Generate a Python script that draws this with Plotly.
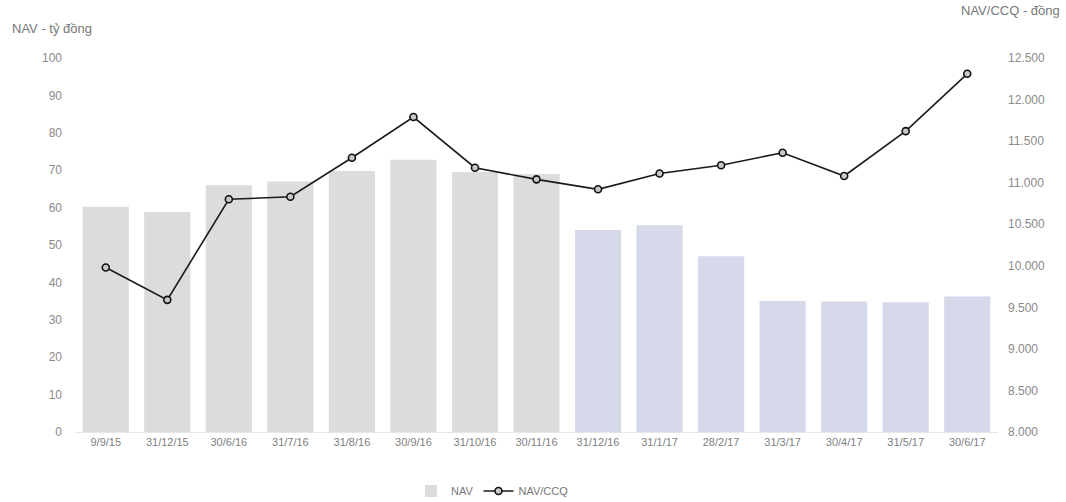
import plotly.graph_objects as go

dates = ["9/9/15", "31/12/15", "30/6/16", "31/7/16", "31/8/16", "30/9/16", "31/10/16",
         "30/11/16", "31/12/16", "31/1/17", "28/2/17", "31/3/17", "30/4/17", "31/5/17", "30/6/17"]
nav = [60.2, 58.8, 66.0, 67.0, 69.8, 72.8, 69.5, 69.0, 54.0, 55.3, 47.0, 35.0, 34.9, 34.7, 36.2]
nav_ccq = [9980, 9590, 10800, 10830, 11300, 11790, 11180, 11040, 10920, 11110, 11210, 11360,
           11080, 11620, 12310]

bar_colors = ["#dcdcdc"] * 8 + ["#d5d9ea"] * 7

font = "Liberation Sans, Arial, sans-serif"
tick_color = "#8a8a8a"

fig = go.Figure()
fig.add_trace(go.Bar(
    x=dates, y=nav, name="NAV",
    marker=dict(color=bar_colors, line=dict(width=0)),
    yaxis="y",
))
fig.add_trace(go.Scatter(
    x=dates, y=nav_ccq, name="NAV/CCQ", mode="lines+markers",
    line=dict(color="#1a1a1a", width=1.6),
    marker=dict(symbol="circle", size=7, color="#c8c8c8", line=dict(color="#111111", width=1.6)),
    yaxis="y2",
))

fig.update_layout(
    width=1066, height=502,
    margin=dict(l=75, r=68, t=58, b=70, autoexpand=False),
    paper_bgcolor="white", plot_bgcolor="white",
    font=dict(family=font, size=11, color=tick_color),
    bargap=0.25,
    showlegend=True,
    legend=dict(orientation="h", x=0.462, xanchor="center", xref="container",
                y=0.022, yanchor="middle", yref="container",
                font=dict(family=font, size=11, color="#777777"), traceorder="normal",
                itemwidth=30, tracegroupgap=0),
    xaxis=dict(type="category", range=[-0.5, len(dates) - 0.5], showgrid=False,
               showline=True, linecolor="#e6e6e6",
               ticks="", tickfont=dict(size=11, color="#808080"), zeroline=False,
               automargin=False),
    yaxis=dict(range=[0, 100], dtick=10, showgrid=False, zeroline=False, showline=False,
               ticks="", tickfont=dict(size=12, color="#8a8a8a"), ticklabelstandoff=12,
               automargin=False),
    yaxis2=dict(range=[8000, 12500], dtick=500, overlaying="y", side="right", showgrid=False,
                zeroline=False, showline=False, ticks="", tickformat=",d",
                tickfont=dict(size=12, color="#8a8a8a"), ticklabelstandoff=9,
                automargin=False),
    separators=",.",
    annotations=[
        dict(text="NAV - tỷ đồng", xref="paper", yref="paper", x=-0.0704, y=1.080,
             xanchor="left", yanchor="middle", showarrow=False,
             font=dict(family=font, size=13, color="#777777")),
        dict(text="NAV/CCQ - đồng", xref="paper", yref="paper", x=1.069, y=1.128,
             xanchor="right", yanchor="middle", showarrow=False,
             font=dict(family=font, size=13, color="#777777")),
    ],
)

fig.write_html("out.html")
